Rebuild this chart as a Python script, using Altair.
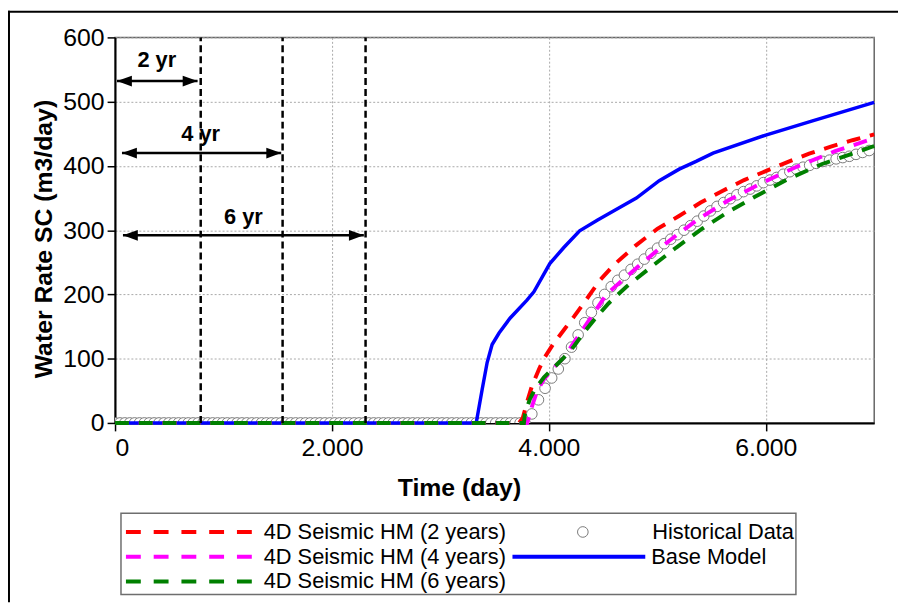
import altair as alt
import pandas as pd

FONT = "Liberation Sans"
W, H = 766, 389

# ---------------- data ----------------
base_days = [0, 3330, 3385, 3431, 3477, 3541, 3642, 3798, 3862, 4009, 4138, 4284, 4450,
             4596, 4807, 5018, 5202, 5358, 5514, 6000, 6431, 7000]
base_vals = [0, 0, 52, 94, 122, 140, 163, 191, 204, 248, 273, 299, 316,
             330, 350, 377, 395, 407, 420, 448, 470, 499]

red_days = [0, 3725, 3760, 3800, 3845, 3910, 3965, 4045, 4140, 4230, 4320, 4400, 4470,
            4600, 4800, 5000, 5200, 5400, 5600, 5800, 6000, 6200, 6400, 6600, 6800, 7000]
red_vals = [0, 0, 8, 33, 58, 84, 103, 124, 145, 165, 186, 205, 222,
            246, 276, 302, 322, 343, 361, 378, 392, 406, 419, 430, 440, 449]

mag_days = [0, 3800, 3845, 3890, 3955, 4045, 4140, 4230, 4320, 4420, 4530, 4670, 4835,
            5010, 5175, 5385, 5660, 5970, 6275, 6640, 7000]
mag_vals = [0, 0, 26, 49, 68, 86, 102, 125, 147, 172, 200, 221, 245,
            270, 292, 318, 347, 374, 398, 423, 443]

grn_days = [0, 3770, 3780, 3825, 3870, 3955, 4045, 4140, 4230, 4320, 4415, 4550, 4715,
            4990, 5175, 5420, 5650, 5900, 6210, 6520, 6800, 7000]
grn_vals = [0, 0, 14, 37, 52, 71, 86, 102, 119, 140, 160, 186, 212,
            249, 273, 303, 328, 352, 380, 403, 419, 431]

hist_flat_days = [0, 45, 90, 135, 180, 225, 270, 315, 360, 405, 450, 495, 540, 585, 630, 675,
                  720, 765, 810, 855, 900, 945, 990, 1035, 1080, 1125, 1170, 1215, 1260, 1305,
                  1350, 1395, 1440, 1485, 1530, 1575, 1620, 1665, 1710, 1755, 1800, 1845, 1890,
                  1935, 1980, 2025, 2070, 2115, 2160, 2205, 2250, 2295, 2340, 2385, 2430, 2475,
                  2520, 2565, 2610, 2655, 2700, 2745, 2790, 2835, 2880, 2925, 2970, 3015, 3060,
                  3105, 3150, 3195, 3240, 3285, 3330, 3375, 3420, 3465, 3510, 3555, 3600, 3645,
                  3690, 3735, 3780]
hist_flat_vals = [0] * len(hist_flat_days)
hist_rise_days = [3843, 3904, 3965, 4026, 4087, 4148, 4209, 4270, 4331, 4392, 4453, 4514, 4575,
                  4636, 4697, 4758, 4819, 4880, 4941, 5002, 5063, 5124, 5185, 5246, 5307, 5368,
                  5429, 5490, 5551, 5612, 5673, 5734, 5795, 5856, 5917, 5978, 6039, 6100, 6161,
                  6222, 6283, 6344, 6405, 6466, 6527, 6588, 6649, 6710, 6771, 6832, 6893, 6954]
hist_rise_vals = [14, 36, 54, 70, 84, 100, 118, 137, 156, 172, 187, 200, 212,
                  222, 230, 239, 247, 255, 264, 272, 279, 286, 293, 300, 307, 314,
                  322, 330, 337, 343, 349, 355, 360, 364, 369, 374, 378, 382, 387,
                  391, 395, 398, 401, 404, 407, 409, 411, 413, 415, 418, 421, 424]

hm_names = ["4D Seismic HM (2 years)", "4D Seismic HM (4 years)", "4D Seismic HM (6 years)"]
hm_colors = ["#ff0000", "#ff00ff", "#008000"]

vline_days = [790, 1545, 2310]
arrow_start = [18, 64, 73]
arrow_end = [761, 1532, 2294]
arrow_rate = [532, 420, 292]
yr_labels = ["2 yr", "4 yr", "6 yr"]
yr_label_days = [385, 789, 1183]
yr_label_rates = [565, 449, 321]

x_ticks = [0, 2000, 4000, 6000]
y_ticks = [0, 100, 200, 300, 400, 500, 600]

# ---------------- tables ----------------
hist_df = pd.DataFrame({"day": hist_flat_days + hist_rise_days,
                        "rate": hist_flat_vals + hist_rise_vals,
                        "series": "Historical Data"})
base_df = pd.DataFrame({"day": base_days, "rate": base_vals, "series": "Base Model"})
hm_df = pd.concat([
    pd.DataFrame({"day": red_days, "rate": red_vals, "series": hm_names[0]}),
    pd.DataFrame({"day": mag_days, "rate": mag_vals, "series": hm_names[1]}),
    pd.DataFrame({"day": grn_days, "rate": grn_vals, "series": hm_names[2]}),
], ignore_index=True)
vline_df = pd.DataFrame({"day": vline_days, "rate": [0] * 3, "rate2": [600] * 3})
arrow_df = pd.DataFrame({"day": arrow_start, "day2": arrow_end, "rate": arrow_rate})
label_df = pd.DataFrame({"day": yr_label_days, "rate": yr_label_rates, "text": yr_labels})
one_df = pd.DataFrame({"a": [0]})

xaxis = alt.Axis(values=x_ticks, labelExpr="replace(format(datum.value, ','), ',', '.')",
                 title="Time (day)", titleX=347, titleY=73, titleBaseline="alphabetic",
                 titleAnchor="start", titleAlign="center",
                 labelPadding=5)
yaxis = alt.Axis(values=y_ticks, title="Water Rate SC (m3/day)", titleX=-72, titleY=203,
                 titleAngle=270, titleAlign="center", titleBaseline="middle",
                 labelPadding=3)
X = alt.X("day:Q", scale=alt.Scale(domain=[0, 7000], nice=False, zero=False), axis=xaxis)
Y = alt.Y("rate:Q", scale=alt.Scale(domain=[0, 600], nice=False), axis=yaxis)

common_legend = dict(title=None, orient="none", padding=0, labelFont=FONT, labelFontSize=22,
                     labelColor="black", labelLimit=500, clipHeight=22, rowPadding=3)

hist = alt.Chart(hist_df).mark_point(
    shape="circle", size=115, filled=False, fill="white", strokeWidth=1, opacity=1, clip=True
).encode(
    x=X, y=Y,
    color=alt.Color("series:N", scale=alt.Scale(domain=["Historical Data"], range=["#7a7a7a"]),
                    legend=alt.Legend(legendX=461, legendY=488, symbolType="circle", symbolSize=115,
                                      symbolFillColor="white", symbolStrokeWidth=1, labelOffset=59,
                                      **common_legend)),
)

base = alt.Chart(base_df).mark_line(strokeWidth=3.5).encode(
    x=X, y=Y,
    color=alt.Color("series:N", scale=alt.Scale(domain=["Base Model"], range=["#0000ff"]),
                    legend=alt.Legend(legendX=399, legendY=513, symbolType="stroke",
                                      symbolSize=134 * 134, symbolStrokeWidth=4, labelOffset=4,
                                      **common_legend)),
)

hm = alt.Chart(hm_df).mark_line(strokeWidth=4, strokeDash=[14, 10]).encode(
    x=X, y=Y,
    color=alt.Color("series:N", scale=alt.Scale(domain=hm_names, range=hm_colors),
                    legend=alt.Legend(legendX=9, legendY=488, symbolType="stroke",
                                      symbolSize=133 * 133, symbolStrokeWidth=4,
                                      symbolDash=[15, 13], labelOffset=4, **common_legend)),
    order=alt.Order("day:Q"),
)

vlines = alt.Chart(vline_df).mark_rule(color="black", strokeWidth=2.5, strokeDash=[7, 4]).encode(
    x=X, y=Y, y2="rate2:Q")

arrow_body = alt.Chart(arrow_df).mark_rule(color="black", strokeWidth=2.5).encode(
    x=X, x2="day2:Q", y=Y)
head_left = alt.Chart(arrow_df).mark_point(
    shape="M-1,0L1,-0.73L1,0.73Z", size=225, filled=True, color="black", opacity=1, xOffset=7.5
).encode(x=X, y=Y)
head_right = alt.Chart(arrow_df).mark_point(
    shape="M1,0L-1,-0.73L-1,0.73Z", size=225, filled=True, color="black", opacity=1, xOffset=-7.5
).encode(x=alt.X("day2:Q"), y=Y)

labels = alt.Chart(label_df).mark_text(
    font=FONT, fontSize=22, fontWeight="bold", color="black", align="center", baseline="middle"
).encode(x=X, y=Y, text="text:N")

legend_box = alt.Chart(one_df).mark_rect(fill="white", stroke="#6e6e6e", strokeWidth=1.5).encode(
    x=alt.value(6), x2=alt.value(687), y=alt.value(480), y2=alt.value(562))

frame_top = alt.Chart(one_df).mark_rule(color="black", strokeWidth=2).encode(
    x=alt.value(-108), x2=alt.value(800), y=alt.value(-26))
frame_left = alt.Chart(one_df).mark_rule(color="black", strokeWidth=2).encode(
    x=alt.value(-107), y=alt.value(-27), y2=alt.value(570))

chart = alt.layer(
    legend_box, hist, base, hm, vlines, arrow_body, head_left, head_right, labels,
    frame_top, frame_left
).resolve_scale(color="independent").properties(
    width=W, height=H,
    autosize=alt.AutoSizeParams(type="none"),
    padding={"left": 108, "top": 27, "right": 24, "bottom": 179},
    background="white",
).configure_view(
    stroke="#666666", strokeWidth=1.5
).configure_axis(
    labelFont=FONT, labelFontSize=25, labelColor="black",
    titleFont=FONT, titleFontSize=25, titleFontWeight="bold", titleColor="black",
    domainColor="black", domainWidth=2,
    tickColor="black", tickWidth=1.5, tickSize=8,
    grid=True, gridColor="#a8a8a8", gridDash=[2, 2], gridWidth=1,
)

chart.save("out.html", embed_options={"renderer": "svg", "actions": False})
